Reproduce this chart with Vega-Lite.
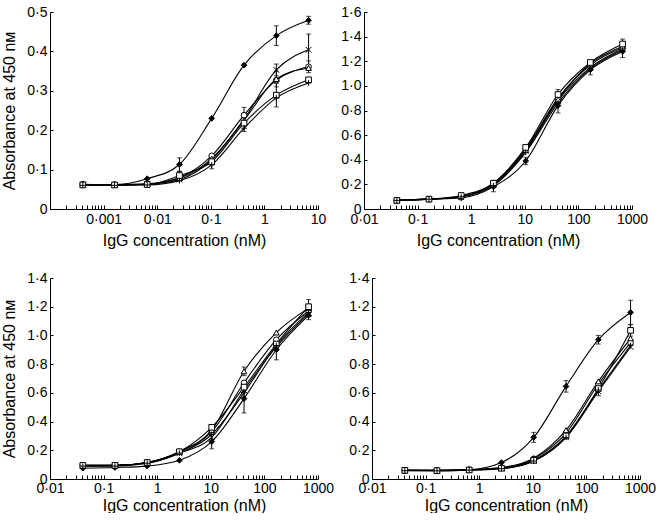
{
  "$schema": "https://vega.github.io/schema/vega-lite/v6.json",
  "padding": {"left": 1, "top": 5, "right": 0, "bottom": 0},
  "datasets": {
    "RIA": [
      {"s":"A","x":0.00041,"y":0.062,"e":0},{"s":"A","x":0.0016,"y":0.062,"e":0},{"s":"A","x":0.0065,"y":0.077,"e":0},{"s":"A","x":0.026,"y":0.113,"e":0.017},{"s":"A","x":0.104,"y":0.230,"e":0},{"s":"A","x":0.417,"y":0.365,"e":0},{"s":"A","x":1.67,"y":0.440,"e":0.025},{"s":"A","x":6.67,"y":0.479,"e":0.01},
      {"s":"B","x":0.00041,"y":0.062,"e":0},{"s":"B","x":0.0016,"y":0.061,"e":0},{"s":"B","x":0.0065,"y":0.063,"e":0},{"s":"B","x":0.026,"y":0.075,"e":0},{"s":"B","x":0.104,"y":0.125,"e":0},{"s":"B","x":0.417,"y":0.228,"e":0},{"s":"B","x":1.67,"y":0.353,"e":0.015},{"s":"B","x":6.67,"y":0.404,"e":0.04},
      {"s":"C","x":0.00041,"y":0.063,"e":0},{"s":"C","x":0.0016,"y":0.062,"e":0},{"s":"C","x":0.0065,"y":0.064,"e":0},{"s":"C","x":0.026,"y":0.080,"e":0},{"s":"C","x":0.104,"y":0.135,"e":0},{"s":"C","x":0.417,"y":0.238,"e":0.02},{"s":"C","x":1.67,"y":0.327,"e":0},{"s":"C","x":6.67,"y":0.361,"e":0.015},
      {"s":"D","x":0.00041,"y":0.062,"e":0},{"s":"D","x":0.0016,"y":0.061,"e":0},{"s":"D","x":0.0065,"y":0.063,"e":0},{"s":"D","x":0.026,"y":0.078,"e":0},{"s":"D","x":0.104,"y":0.128,"e":0},{"s":"D","x":0.417,"y":0.225,"e":0},{"s":"D","x":1.67,"y":0.330,"e":0.02},{"s":"D","x":6.67,"y":0.358,"e":0},
      {"s":"E","x":0.00041,"y":0.061,"e":0},{"s":"E","x":0.0016,"y":0.061,"e":0},{"s":"E","x":0.0065,"y":0.062,"e":0},{"s":"E","x":0.026,"y":0.085,"e":0.01},{"s":"E","x":0.104,"y":0.120,"e":0},{"s":"E","x":0.417,"y":0.218,"e":0},{"s":"E","x":1.67,"y":0.289,"e":0.03},{"s":"E","x":6.67,"y":0.328,"e":0},
      {"s":"F","x":0.00041,"y":0.060,"e":0},{"s":"F","x":0.0016,"y":0.060,"e":0},{"s":"F","x":0.0065,"y":0.061,"e":0},{"s":"F","x":0.026,"y":0.072,"e":0},{"s":"F","x":0.104,"y":0.112,"e":0.01},{"s":"F","x":0.417,"y":0.205,"e":0.008},{"s":"F","x":1.67,"y":0.282,"e":0},{"s":"F","x":6.67,"y":0.320,"e":0}
    ],
    "RIIA": [
      {"s":"A","x":0.041,"y":0.07,"e":0},{"s":"A","x":0.163,"y":0.08,"e":0},{"s":"A","x":0.65,"y":0.09,"e":0},{"s":"A","x":2.6,"y":0.18,"e":0.04},{"s":"A","x":10.4,"y":0.39,"e":0.03},{"s":"A","x":41.7,"y":0.84,"e":0.06},{"s":"A","x":167,"y":1.13,"e":0.04},{"s":"A","x":667,"y":1.28,"e":0.05},
      {"s":"B","x":0.041,"y":0.07,"e":0},{"s":"B","x":0.163,"y":0.08,"e":0},{"s":"B","x":0.65,"y":0.10,"e":0},{"s":"B","x":2.6,"y":0.20,"e":0},{"s":"B","x":10.4,"y":0.47,"e":0},{"s":"B","x":41.7,"y":0.88,"e":0},{"s":"B","x":167,"y":1.15,"e":0},{"s":"B","x":667,"y":1.30,"e":0},
      {"s":"C","x":0.041,"y":0.07,"e":0},{"s":"C","x":0.163,"y":0.08,"e":0},{"s":"C","x":0.65,"y":0.10,"e":0},{"s":"C","x":2.6,"y":0.21,"e":0},{"s":"C","x":10.4,"y":0.49,"e":0},{"s":"C","x":41.7,"y":0.90,"e":0},{"s":"C","x":167,"y":1.17,"e":0},{"s":"C","x":667,"y":1.31,"e":0},
      {"s":"D","x":0.041,"y":0.07,"e":0},{"s":"D","x":0.163,"y":0.08,"e":0},{"s":"D","x":0.65,"y":0.10,"e":0},{"s":"D","x":2.6,"y":0.20,"e":0},{"s":"D","x":10.4,"y":0.48,"e":0},{"s":"D","x":41.7,"y":0.89,"e":0},{"s":"D","x":167,"y":1.18,"e":0},{"s":"D","x":667,"y":1.32,"e":0},
      {"s":"E","x":0.041,"y":0.07,"e":0},{"s":"E","x":0.163,"y":0.08,"e":0},{"s":"E","x":0.65,"y":0.11,"e":0},{"s":"E","x":2.6,"y":0.21,"e":0},{"s":"E","x":10.4,"y":0.50,"e":0},{"s":"E","x":41.7,"y":0.93,"e":0.04},{"s":"E","x":167,"y":1.19,"e":0},{"s":"E","x":667,"y":1.34,"e":0.04},
      {"s":"F","x":0.041,"y":0.07,"e":0},{"s":"F","x":0.163,"y":0.08,"e":0},{"s":"F","x":0.65,"y":0.10,"e":0},{"s":"F","x":2.6,"y":0.19,"e":0},{"s":"F","x":10.4,"y":0.46,"e":0},{"s":"F","x":41.7,"y":0.86,"e":0},{"s":"F","x":167,"y":1.14,"e":0},{"s":"F","x":667,"y":1.29,"e":0}
    ],
    "RIIB": [
      {"s":"A","x":0.041,"y":0.075,"e":0},{"s":"A","x":0.163,"y":0.08,"e":0},{"s":"A","x":0.65,"y":0.09,"e":0},{"s":"A","x":2.6,"y":0.13,"e":0},{"s":"A","x":10.4,"y":0.26,"e":0.05},{"s":"A","x":41.7,"y":0.56,"e":0.1},{"s":"A","x":167,"y":0.90,"e":0.07},{"s":"A","x":667,"y":1.14,"e":0.03},
      {"s":"B","x":0.041,"y":0.09,"e":0},{"s":"B","x":0.163,"y":0.095,"e":0},{"s":"B","x":0.65,"y":0.11,"e":0},{"s":"B","x":2.6,"y":0.18,"e":0},{"s":"B","x":10.4,"y":0.29,"e":0},{"s":"B","x":41.7,"y":0.62,"e":0},{"s":"B","x":167,"y":0.92,"e":0},{"s":"B","x":667,"y":1.15,"e":0},
      {"s":"C","x":0.041,"y":0.095,"e":0},{"s":"C","x":0.163,"y":0.095,"e":0},{"s":"C","x":0.65,"y":0.115,"e":0},{"s":"C","x":2.6,"y":0.19,"e":0},{"s":"C","x":10.4,"y":0.33,"e":0},{"s":"C","x":41.7,"y":0.67,"e":0},{"s":"C","x":167,"y":0.97,"e":0},{"s":"C","x":667,"y":1.17,"e":0},
      {"s":"D","x":0.041,"y":0.095,"e":0},{"s":"D","x":0.163,"y":0.095,"e":0},{"s":"D","x":0.65,"y":0.115,"e":0},{"s":"D","x":2.6,"y":0.19,"e":0},{"s":"D","x":10.4,"y":0.34,"e":0},{"s":"D","x":41.7,"y":0.75,"e":0.03},{"s":"D","x":167,"y":1.02,"e":0},{"s":"D","x":667,"y":1.19,"e":0},
      {"s":"E","x":0.041,"y":0.095,"e":0},{"s":"E","x":0.163,"y":0.095,"e":0},{"s":"E","x":0.65,"y":0.115,"e":0},{"s":"E","x":2.6,"y":0.19,"e":0},{"s":"E","x":10.4,"y":0.36,"e":0},{"s":"E","x":41.7,"y":0.64,"e":0},{"s":"E","x":167,"y":0.94,"e":0},{"s":"E","x":667,"y":1.20,"e":0.05},
      {"s":"F","x":0.041,"y":0.09,"e":0},{"s":"F","x":0.163,"y":0.09,"e":0},{"s":"F","x":0.65,"y":0.11,"e":0},{"s":"F","x":2.6,"y":0.18,"e":0},{"s":"F","x":10.4,"y":0.31,"e":0},{"s":"F","x":41.7,"y":0.60,"e":0},{"s":"F","x":167,"y":0.93,"e":0},{"s":"F","x":667,"y":1.16,"e":0}
    ],
    "RIIIA": [
      {"s":"A","x":0.041,"y":0.06,"e":0},{"s":"A","x":0.163,"y":0.06,"e":0},{"s":"A","x":0.65,"y":0.065,"e":0},{"s":"A","x":2.6,"y":0.115,"e":0},{"s":"A","x":10.4,"y":0.29,"e":0.035},{"s":"A","x":41.7,"y":0.645,"e":0.04},{"s":"A","x":167,"y":0.97,"e":0.03},{"s":"A","x":667,"y":1.16,"e":0.085},
      {"s":"B","x":0.041,"y":0.06,"e":0},{"s":"B","x":0.163,"y":0.058,"e":0},{"s":"B","x":0.65,"y":0.062,"e":0},{"s":"B","x":2.6,"y":0.072,"e":0},{"s":"B","x":10.4,"y":0.125,"e":0},{"s":"B","x":41.7,"y":0.29,"e":0},{"s":"B","x":167,"y":0.61,"e":0.03},{"s":"B","x":667,"y":0.92,"e":0},
      {"s":"C","x":0.041,"y":0.06,"e":0},{"s":"C","x":0.163,"y":0.06,"e":0},{"s":"C","x":0.65,"y":0.065,"e":0},{"s":"C","x":2.6,"y":0.078,"e":0},{"s":"C","x":10.4,"y":0.14,"e":0},{"s":"C","x":41.7,"y":0.32,"e":0},{"s":"C","x":167,"y":0.66,"e":0},{"s":"C","x":667,"y":0.95,"e":0},
      {"s":"D","x":0.041,"y":0.06,"e":0},{"s":"D","x":0.163,"y":0.06,"e":0},{"s":"D","x":0.65,"y":0.065,"e":0},{"s":"D","x":2.6,"y":0.08,"e":0},{"s":"D","x":10.4,"y":0.145,"e":0},{"s":"D","x":41.7,"y":0.34,"e":0},{"s":"D","x":167,"y":0.68,"e":0},{"s":"D","x":667,"y":0.98,"e":0},
      {"s":"E","x":0.041,"y":0.06,"e":0},{"s":"E","x":0.163,"y":0.058,"e":0},{"s":"E","x":0.65,"y":0.063,"e":0},{"s":"E","x":2.6,"y":0.075,"e":0},{"s":"E","x":10.4,"y":0.13,"e":0},{"s":"E","x":41.7,"y":0.30,"e":0},{"s":"E","x":167,"y":0.63,"e":0},{"s":"E","x":667,"y":1.035,"e":0.04},
      {"s":"F","x":0.041,"y":0.058,"e":0},{"s":"F","x":0.163,"y":0.057,"e":0},{"s":"F","x":0.65,"y":0.062,"e":0},{"s":"F","x":2.6,"y":0.072,"e":0},{"s":"F","x":10.4,"y":0.125,"e":0},{"s":"F","x":41.7,"y":0.29,"e":0},{"s":"F","x":167,"y":0.62,"e":0},{"s":"F","x":667,"y":0.93,"e":0}
    ]
  },
  "vconcat": [
    {
      "hconcat": [
        {
          "width": 268, "height": 197,
          "data": {"name": "RIA"},
          "encoding": {
            "x": {"field": "x", "type": "quantitative", "scale": {"type": "log", "domain": [0.0001, 10], "nice": false},
              "axis": {"title": "IgG concentration (nM)", "values": [0.0001,0.0002,0.0003,0.0004,0.0005,0.0006,0.0007,0.0008,0.0009,0.001,0.002,0.003,0.004,0.005,0.006,0.007,0.008,0.009,0.01,0.02,0.03,0.04,0.05,0.06,0.07,0.08,0.09,0.1,0.2,0.3,0.4,0.5,0.6,0.7,0.8,0.9,1,2,3,4,5,6,7,8,9,10],
                "labelExpr": "datum.value > 0.0005 && abs(log(datum.value)/LN10 - round(log(datum.value)/LN10)) < 0.001 ? replace(format(datum.value, '~g'), '.', '·') : ''"}},
            "y": {"field": "y", "type": "quantitative", "scale": {"domain": [0, 0.5], "nice": false},
              "axis": {"title": "Absorbance at 450 nм", "values": [0,0.1,0.2,0.3,0.4,0.5],
                "labelExpr": "datum.value == 0 ? '0' : replace(format(datum.value, '.1f'), '.', '·')"}}
          },
          "layer": [
            {"mark": {"type": "line", "interpolate": "monotone", "color": "black", "strokeWidth": 1.1}, "encoding": {"detail": {"field": "s"}}},
            {"transform": [{"filter": "datum.e > 0"}], "mark": {"type": "errorbar", "ticks": {"size": 5}, "color": "black", "thickness": 1}, "encoding": {"yError": {"field": "e"}}},
            {"mark": {"type": "point", "filled": true, "stroke": "black", "strokeWidth": 1, "size": 32, "opacity": 1},
              "encoding": {
                "shape": {"field": "s", "scale": {"domain": ["A","B","C","D","E","F"], "range": ["diamond","M-1,-1L1,1M-1,1L1,-1","circle","triangle-up","square","M-1,0L1,0M0,-1L0,1"]}, "legend": null},
                "fill": {"field": "s", "scale": {"domain": ["A","B","C","D","E","F"], "range": ["black","white","white","white","white","white"]}, "legend": null}}},
            {"data": {"values": [{"t": "FcγRIA"}]}, "mark": {"type": "text", "align": "left", "baseline": "middle", "fontSize": 14, "font": "Liberation Sans", "color": "black"},
              "encoding": {"x": {"datum": 0.000257}, "y": {"datum": 0.424}, "text": {"field": "t"}}}
          ]
        },
        {
          "width": 268, "height": 197,
          "data": {"name": "RIIA"},
          "encoding": {
            "x": {"field": "x", "type": "quantitative", "scale": {"type": "log", "domain": [0.01, 1000], "nice": false},
              "axis": {"title": "IgG concentration (nM)", "values": [0.01,0.02,0.03,0.04,0.05,0.06,0.07,0.08,0.09,0.1,0.2,0.3,0.4,0.5,0.6,0.7,0.8,0.9,1,2,3,4,5,6,7,8,9,10,20,30,40,50,60,70,80,90,100,200,300,400,500,600,700,800,900,1000],
                "labelExpr": "abs(log(datum.value)/LN10 - round(log(datum.value)/LN10)) < 0.001 ? replace(format(datum.value, '~g'), '.', '·') : ''"}},
            "y": {"field": "y", "type": "quantitative", "scale": {"domain": [0, 1.6], "nice": false},
              "axis": {"title": null, "values": [0,0.2,0.4,0.6,0.8,1.0,1.2,1.4,1.6],
                "labelExpr": "datum.value == 0 ? '0' : replace(format(datum.value, '.1f'), '.', '·')"}}
          },
          "layer": [
            {"mark": {"type": "line", "interpolate": "monotone", "color": "black", "strokeWidth": 1.1}, "encoding": {"detail": {"field": "s"}}},
            {"transform": [{"filter": "datum.e > 0"}], "mark": {"type": "errorbar", "ticks": {"size": 5}, "color": "black", "thickness": 1}, "encoding": {"yError": {"field": "e"}}},
            {"mark": {"type": "point", "filled": true, "stroke": "black", "strokeWidth": 1, "size": 32, "opacity": 1},
              "encoding": {
                "shape": {"field": "s", "scale": {"domain": ["A","B","C","D","E","F"], "range": ["diamond","M-1,-1L1,1M-1,1L1,-1","circle","triangle-up","square","M-1,0L1,0M0,-1L0,1"]}, "legend": null},
                "fill": {"field": "s", "scale": {"domain": ["A","B","C","D","E","F"], "range": ["black","white","white","white","white","white"]}, "legend": null}}},
            {"data": {"values": [{"t": "FcγRIIA"}]}, "mark": {"type": "text", "align": "left", "baseline": "middle", "fontSize": 14, "font": "Liberation Sans", "color": "black"},
              "encoding": {"x": {"datum": 0.028}, "y": {"datum": 1.35}, "text": {"field": "t"}}}
          ]
        }
      ]
    },
    {
      "hconcat": [
        {
          "width": 268, "height": 201,
          "data": {"name": "RIIB"},
          "encoding": {
            "x": {"field": "x", "type": "quantitative", "scale": {"type": "log", "domain": [0.01, 1000], "nice": false},
              "axis": {"title": "IgG concentration (nM)", "titlePadding": 2, "labelPadding": 6, "values": [0.01,0.02,0.03,0.04,0.05,0.06,0.07,0.08,0.09,0.1,0.2,0.3,0.4,0.5,0.6,0.7,0.8,0.9,1,2,3,4,5,6,7,8,9,10,20,30,40,50,60,70,80,90,100,200,300,400,500,600,700,800,900,1000],
                "labelExpr": "abs(log(datum.value)/LN10 - round(log(datum.value)/LN10)) < 0.001 ? replace(format(datum.value, '~g'), '.', '·') : ''"}},
            "y": {"field": "y", "type": "quantitative", "scale": {"domain": [0, 1.4], "nice": false},
              "axis": {"title": "Absorbance at 450 nм", "values": [0,0.2,0.4,0.6,0.8,1.0,1.2,1.4],
                "labelExpr": "datum.value == 0 ? '0' : replace(format(datum.value, '.1f'), '.', '·')"}}
          },
          "layer": [
            {"mark": {"type": "line", "interpolate": "monotone", "color": "black", "strokeWidth": 1.1}, "encoding": {"detail": {"field": "s"}}},
            {"transform": [{"filter": "datum.e > 0"}], "mark": {"type": "errorbar", "ticks": {"size": 5}, "color": "black", "thickness": 1}, "encoding": {"yError": {"field": "e"}}},
            {"mark": {"type": "point", "filled": true, "stroke": "black", "strokeWidth": 1, "size": 32, "opacity": 1},
              "encoding": {
                "shape": {"field": "s", "scale": {"domain": ["A","B","C","D","E","F"], "range": ["diamond","M-1,-1L1,1M-1,1L1,-1","circle","triangle-up","square","M-1,0L1,0M0,-1L0,1"]}, "legend": null},
                "fill": {"field": "s", "scale": {"domain": ["A","B","C","D","E","F"], "range": ["black","white","white","white","white","white"]}, "legend": null}}},
            {"data": {"values": [{"t": "FcγRIIB"}]}, "mark": {"type": "text", "align": "left", "baseline": "middle", "fontSize": 14, "font": "Liberation Sans", "color": "black"},
              "encoding": {"x": {"datum": 0.0247}, "y": {"datum": 1.25}, "text": {"field": "t"}}}
          ]
        },
        {
          "width": 268, "height": 201,
          "data": {"name": "RIIIA"},
          "encoding": {
            "x": {"field": "x", "type": "quantitative", "scale": {"type": "log", "domain": [0.01, 1000], "nice": false},
              "axis": {"title": "IgG concentration (nM)", "titlePadding": 2, "labelPadding": 6, "values": [0.01,0.02,0.03,0.04,0.05,0.06,0.07,0.08,0.09,0.1,0.2,0.3,0.4,0.5,0.6,0.7,0.8,0.9,1,2,3,4,5,6,7,8,9,10,20,30,40,50,60,70,80,90,100,200,300,400,500,600,700,800,900,1000],
                "labelExpr": "abs(log(datum.value)/LN10 - round(log(datum.value)/LN10)) < 0.001 ? replace(format(datum.value, '~g'), '.', '·') : ''"}},
            "y": {"field": "y", "type": "quantitative", "scale": {"domain": [0, 1.4], "nice": false},
              "axis": {"title": null, "values": [0,0.2,0.4,0.6,0.8,1.0,1.2,1.4],
                "labelExpr": "datum.value == 0 ? '0' : replace(format(datum.value, '.1f'), '.', '·')"}}
          },
          "layer": [
            {"mark": {"type": "line", "interpolate": "monotone", "color": "black", "strokeWidth": 1.1}, "encoding": {"detail": {"field": "s"}}},
            {"transform": [{"filter": "datum.e > 0"}], "mark": {"type": "errorbar", "ticks": {"size": 5}, "color": "black", "thickness": 1}, "encoding": {"yError": {"field": "e"}}},
            {"mark": {"type": "point", "filled": true, "stroke": "black", "strokeWidth": 1, "size": 32, "opacity": 1},
              "encoding": {
                "shape": {"field": "s", "scale": {"domain": ["A","B","C","D","E","F"], "range": ["diamond","M-1,-1L1,1M-1,1L1,-1","circle","triangle-up","square","M-1,0L1,0M0,-1L0,1"]}, "legend": null},
                "fill": {"field": "s", "scale": {"domain": ["A","B","C","D","E","F"], "range": ["black","white","white","white","white","white"]}, "legend": null}}},
            {"data": {"values": [{"t": "FcγRIIIA"}]}, "mark": {"type": "text", "align": "left", "baseline": "middle", "fontSize": 14, "font": "Liberation Sans", "color": "black"},
              "encoding": {"x": {"datum": 0.0295}, "y": {"datum": 1.215}, "text": {"field": "t"}}}
          ]
        }
      ]
    }
  ],
  "spacing": 23,
  "config": {
    "font": "Liberation Sans",
    "view": {"stroke": null},
    "concat": {"spacing": 14},
    "axis": {"grid": false, "domainColor": "black", "domainWidth": 1, "tickColor": "black", "tickWidth": 1, "labelColor": "black", "titleColor": "black",
      "labelFontSize": 14, "titleFontSize": 16, "titleFontWeight": "normal", "labelFont": "Liberation Sans", "titleFont": "Liberation Sans",
      "labelFlush": false, "labelOverlap": false, "labelBound": false},
    "axisX": {"tickSize": -4, "labelPadding": 7, "titlePadding": 6},
    "axisY": {"tickSize": -3, "labelPadding": 6, "titlePadding": 9}
  }
}
